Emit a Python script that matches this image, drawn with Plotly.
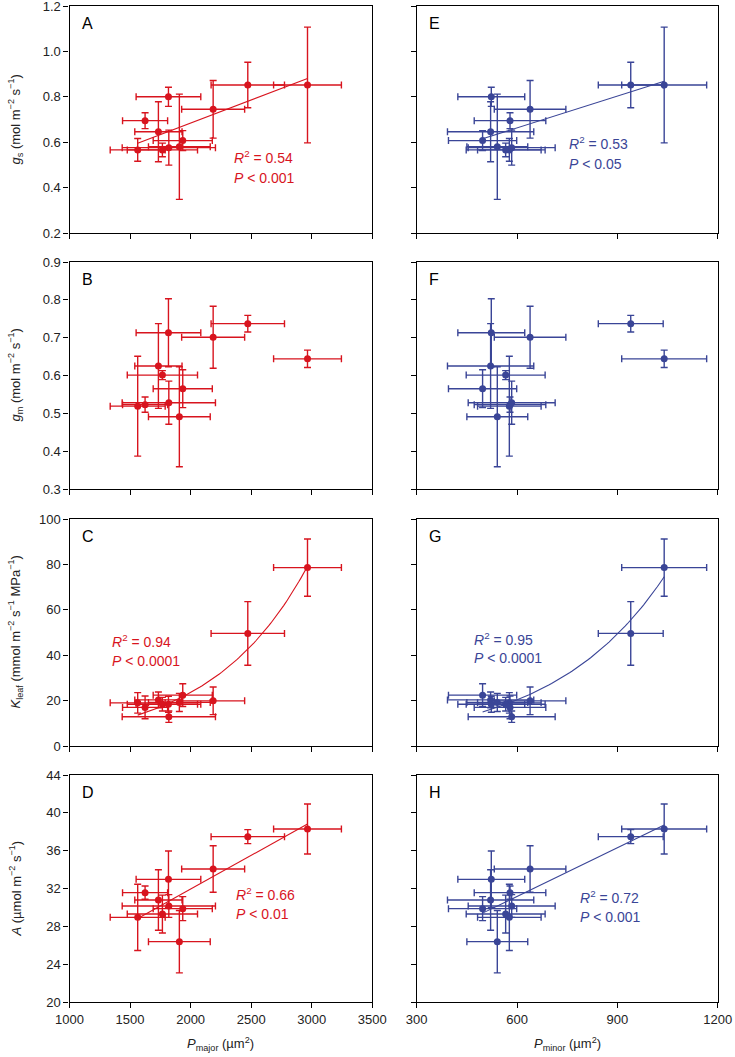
import numpy as np
import plotly.graph_objects as go
from plotly.subplots import make_subplots

# ---- data (11 species) ----
p_major = [1563, 1624, 1734, 1767, 1817, 1820, 1907, 1935, 2186, 2472, 2965]
p_major_err = [227, 186, 195, 290, 267, 385, 255, 244, 260, 303, 280]
p_minor = [577, 579, 521, 566, 523, 584, 541, 497, 639, 940, 1040]
p_minor_err = [95, 107, 129, 118, 100, 130, 91, 102, 107, 97, 127]
gs = [0.566, 0.695, 0.646, 0.566, 0.800, 0.576, 0.580, 0.607, 0.745, 0.852, 0.852]
gs_err = [0.05, 0.035, 0.132, 0.03, 0.042, 0.077, 0.232, 0.044, 0.127, 0.10, 0.255]
gm = [0.519, 0.523, 0.625, 0.601, 0.713, 0.528, 0.491, 0.565, 0.701, 0.737, 0.644]
gm_err = [0.132, 0.02, 0.112, 0.012, 0.09, 0.057, 0.132, 0.05, 0.082, 0.022, 0.023]
kleaf = [19.0, 17.0, 20.3, 18.4, 18.4, 12.9, 19.2, 22.4, 19.9, 49.6, 78.6]
kleaf_err = [4.5, 5.0, 3.5, 3.0, 3.5, 2.5, 4.0, 5.0, 6.1, 14.0, 12.6]
a_net = [28.95, 31.56, 30.78, 29.3, 32.97, 30.15, 26.38, 29.87, 34.06, 37.48, 38.29]
a_err = [3.5, 0.7, 3.2, 2.0, 3.0, 1.2, 3.3, 1.27, 2.46, 0.74, 2.64]

# tick labels
gs_ticks = [0.2, 0.4, 0.6, 0.8, 1.0, 1.2]
gm_ticks = [0.3, 0.4, 0.5, 0.6, 0.7, 0.8, 0.9]
kleaf_ticks = [0, 20, 40, 60, 80, 100]
a_ticks = [20, 24, 28, 32, 36, 40, 44]
p_major_ticks = [1000, 1500, 2000, 2500, 3000, 3500]
p_minor_ticks = [300, 600, 900, 1200]

panel_letters = ["A", "E", "B", "F", "C", "G", "D", "H"]
stats = {
    "A": ["<i>R</i><sup>2</sup> = 0.54", "<i>P</i> < 0.001"],
    "E": ["<i>R</i><sup>2</sup> = 0.53", "<i>P</i> < 0.05"],
    "C": ["<i>R</i><sup>2</sup> = 0.94", "<i>P</i> < 0.0001"],
    "G": ["<i>R</i><sup>2</sup> = 0.95", "<i>P</i> < 0.0001"],
    "D": ["<i>R</i><sup>2</sup> = 0.66", "<i>P</i> < 0.01"],
    "H": ["<i>R</i><sup>2</sup> = 0.72", "<i>P</i> < 0.001"],
}
y_titles = [
    "<i>g</i><sub>s</sub> (mol m<sup>−2</sup> s<sup>−1</sup>)",
    "<i>g</i><sub>m</sub> (mol m<sup>−2</sup> s<sup>−1</sup>)",
    "<i>K</i><sub>leaf</sub> (mmol m<sup>−2</sup> s<sup>−1</sup> MPa<sup>−1</sup>)",
    "<i>A</i> (µmol m<sup>−2</sup> s<sup>−1</sup>)",
]
x_titles = ["<i>P</i><sub>major</sub> (µm<sup>2</sup>)", "<i>P</i><sub>minor</sub> (µm<sup>2</sup>)"]

RED = "#d8141e"
BLUE = "#3a4597"
FONT = "Liberation Sans, Arial, sans-serif"
W, H = 735, 1057

# pixel geometry
col_px = [(69.5, 372.3), (416.7, 717.7)]
row_px = [(6, 233), (262, 489), (519, 746), (775, 1002)]
y_tickvals = [gs_ticks, gm_ticks, kleaf_ticks, a_ticks]
y_fmt = [".1f", ".1f", "d", "d"]
x_tickvals = [p_major_ticks, p_minor_ticks]

fig = make_subplots(rows=4, cols=2)

def lin_fit(x, y):
    b, a = np.polyfit(np.asarray(x, float), np.asarray(y, float), 1)
    xs = np.linspace(min(x), max(x), 50)
    return xs, a + b * xs

def exp_fit(x, y):
    x = np.asarray(x, float); y = np.asarray(y, float)
    xm = x.mean()
    b, lna = np.polyfit(x - xm, np.log(y), 1, w=y)
    a = np.exp(lna)
    for _ in range(100):
        e = np.exp(b * (x - xm))
        f = a * e
        J = np.column_stack([e, a * (x - xm) * e])
        step, *_ = np.linalg.lstsq(J, y - f, rcond=None)
        a += step[0]; b += step[1]
    xs = np.linspace(x.min(), x.max(), 80)
    return xs, a * np.exp(b * (xs - xm))

yvals = [(gs, gs_err), (gm, gm_err), (kleaf, kleaf_err), (a_net, a_err)]
fits = ["lin", None, "exp", "lin"]
xvals = [(p_major, p_major_err), (p_minor, p_minor_err)]
colors = [RED, BLUE]

for r in range(4):
    for c in range(2):
        xv, xe = xvals[c]
        yv, ye = yvals[r]
        col = colors[c]
        fig.add_trace(go.Scatter(
            x=xv, y=yv, mode="markers",
            marker=dict(color=col, size=7, line=dict(width=0)),
            error_x=dict(type="data", array=xe, color=col, thickness=1.4, width=3.5),
            error_y=dict(type="data", array=ye, color=col, thickness=1.4, width=3.5),
            showlegend=False, hoverinfo="skip"), row=r + 1, col=c + 1)
        if fits[r] == "lin":
            fx, fy = lin_fit(xv, yv)
        elif fits[r] == "exp":
            fx, fy = exp_fit(xv, yv)
        else:
            fx = None
        if fx is not None:
            fig.add_trace(go.Scatter(x=fx, y=fy, mode="lines",
                                     line=dict(color=col, width=1.1),
                                     showlegend=False, hoverinfo="skip"),
                          row=r + 1, col=c + 1)

axis_common = dict(showline=True, linecolor="black", linewidth=1.3, mirror=True,
                   ticks="outside", ticklen=5, tickwidth=1.3, tickcolor="black",
                   showgrid=False, zeroline=False, automargin=False,
                   ticklabeloverflow="allow",
                   tickfont=dict(family=FONT, size=13, color="#222"))

for r in range(4):
    for c in range(2):
        idx = r * 2 + c + 1
        xk = "xaxis" if idx == 1 else f"xaxis{idx}"
        yk = "yaxis" if idx == 1 else f"yaxis{idx}"
        x0, x1 = col_px[c]
        t, b = row_px[r]
        xt = x_tickvals[c]
        yt = y_tickvals[r]
        fig.layout[xk].update(domain=[x0 / W, x1 / W], range=[xt[0], xt[-1]],
                              tickmode="array", tickvals=xt,
                              ticktext=[str(v) for v in xt],
                              showticklabels=(r == 3), **axis_common)
        fig.layout[yk].update(domain=[1 - b / H, 1 - t / H], range=[yt[0], yt[-1]],
                              tickmode="array", tickvals=yt,
                              ticktext=[format(v, y_fmt[r]) for v in yt],
                              showticklabels=(c == 0), **axis_common)

annotations = []
# panel letters
for r in range(4):
    for c in range(2):
        letter = panel_letters[r * 2 + c]
        x0 = col_px[c][0] + 10
        t = row_px[r][0]
        annotations.append(dict(text=letter, xref="paper", yref="paper",
                                x=x0 / W, y=1 - (t + 7) / H, xanchor="left", yanchor="top",
                                showarrow=False, font=dict(family=FONT, size=16, color="black")))

# statistics text positions (data coordinates)
stat_pos = {
    "A": (1, 2343, 0.535, 0.442),
    "E": (2, 749, 0.597, 0.506),
    "C": (5, 1335, 46.2, 37.4),
    "G": (6, 464, 47.2, 38.6),
    "D": (7, 2354, 31.42, 29.27),
    "H": (8, 783, 31.13, 29.0),
}
for key, (ax, sx, sy1, sy2) in stat_pos.items():
    col = RED if key in "ABCD" else BLUE
    xr = "x" if ax == 1 else f"x{ax}"
    yr = "y" if ax == 1 else f"y{ax}"
    for txt, sy in zip(stats[key], (sy1, sy2)):
        annotations.append(dict(text=txt, xref=xr, yref=yr, x=sx, y=sy,
                                xanchor="left", yanchor="middle", showarrow=False,
                                font=dict(family=FONT, size=14, color=col)))

# y-axis titles
for r in range(4):
    t, b = row_px[r]
    annotations.append(dict(text=y_titles[r], xref="paper", yref="paper",
                            x=15 / W, y=1 - (t + b) / 2 / H, xanchor="center", yanchor="middle",
                            textangle=-90, showarrow=False,
                            font=dict(family=FONT, size=13, color="#222")))
# x-axis titles
for c in range(2):
    x0, x1 = col_px[c]
    annotations.append(dict(text=x_titles[c], xref="paper", yref="paper",
                            x=(x0 + x1) / 2 / W, y=1 - 1044 / H, xanchor="center", yanchor="middle",
                            showarrow=False, font=dict(family=FONT, size=13, color="#222")))

fig.update_layout(width=W, height=H, margin=dict(l=0, r=0, t=0, b=0),
                  paper_bgcolor="white", plot_bgcolor="white",
                  annotations=annotations, showlegend=False)

fig.write_html("out.html", config={"displayModeBar": False},
               post_script="document.body.style.margin='0';document.body.style.overflow='hidden';")
